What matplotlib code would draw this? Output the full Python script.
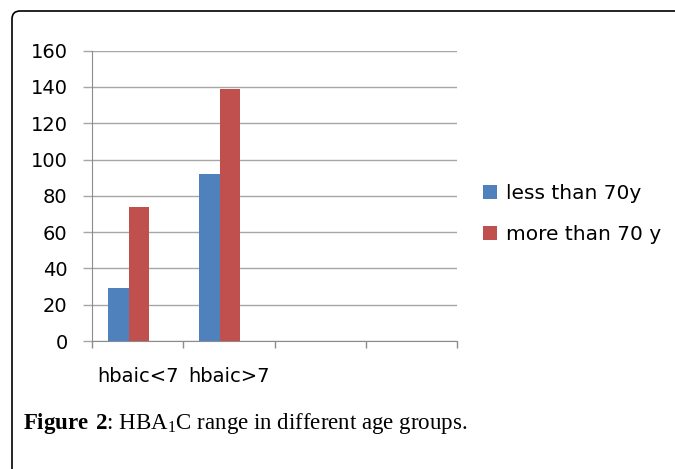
import matplotlib
matplotlib.use("Agg")
import matplotlib.pyplot as plt
import numpy as np
from matplotlib.path import Path
from matplotlib.patches import PathPatch

# datos
categorias = ["hbaic<7", "hbaic>7", "", ""]
menos_70 = [29, 92]
mas_70 = [74, 139]
series = ["less than 70y", "more than 70 y"]
yticks = [0, 20, 40, 60, 80, 100, 120, 140, 160]

azul = "#4F81BD"
rojo = "#C0504D"
gris = "#8c8c8c"

plt.rcParams['font.family'] = ['DejaVu Sans']
plt.rcParams['mathtext.fontset'] = 'custom'
plt.rcParams['mathtext.rm'] = 'Liberation Serif'
plt.rcParams['mathtext.bf'] = 'Liberation Serif:bold'

fig = plt.figure(figsize=(6.75, 4.69), dpi=100)
ax = fig.add_axes([92/675, 1 - 341/469, (457 - 92)/675, (341 - 50.7)/469])

w = 0.225
x = np.arange(len(menos_70))
ax.bar(x - w/2, menos_70, w, color=azul, label=series[0], zorder=3)
ax.bar(x + w/2, mas_70, w, color=rojo, label=series[1], zorder=3)

ax.set_xlim(-0.4, 3.6)
ax.set_ylim(0, 160)
ax.set_yticks(yticks)
ax.yaxis.grid(True, color="#a6a6a6", lw=1.0, zorder=0)

# etiquetas en el centro de cada categoria, marcas en los bordes
ax.set_xticks(np.arange(len(categorias)) + 0.1)
ax.set_xticklabels(categorias)
ax.set_xticks(np.arange(len(categorias) + 1) - 0.4, minor=True)
ax.tick_params(axis='x', which='major', length=0, pad=19, labelsize=14)
ax.tick_params(axis='x', which='minor', length=5, color=gris, width=1)
ax.tick_params(axis='y', length=6.5, color="#a6a6a6", width=1, pad=11, labelsize=14)

for s in ["top", "right"]:
    ax.spines[s].set_visible(False)
ax.spines["left"].set_color(gris)
ax.spines["bottom"].set_color(gris)

fig.legend(loc="upper left", bbox_to_anchor=(483/675, 1 - 184/469), frameon=False,
           fontsize=14.5, handlelength=0.72, handleheight=0.72, handletextpad=0.42,
           labelspacing=1.1, borderaxespad=0, borderpad=0)

# pie de figura
fig.text(23/675, 1 - 423/469, r"$\mathbf{Figure\ 2}$: HBA$_1$C range in different age groups.",
         fontsize=16.5, family='Liberation Serif', va='center', ha='left')

# marco con esquina redondeada
r = 0.08
x0, y0 = 0.12, 4.58
verts = [(x0, -0.2), (x0, y0 - r), (x0, y0), (x0 + r, y0), (7.0, y0)]
codes = [Path.MOVETO, Path.LINETO, Path.CURVE3, Path.CURVE3, Path.LINETO]
marco = PathPatch(Path(verts, codes), fill=False, lw=1.2, ec="black",
                  transform=fig.dpi_scale_trans, clip_on=False)
fig.add_artist(marco)

fig.savefig("out.png", dpi=100)
